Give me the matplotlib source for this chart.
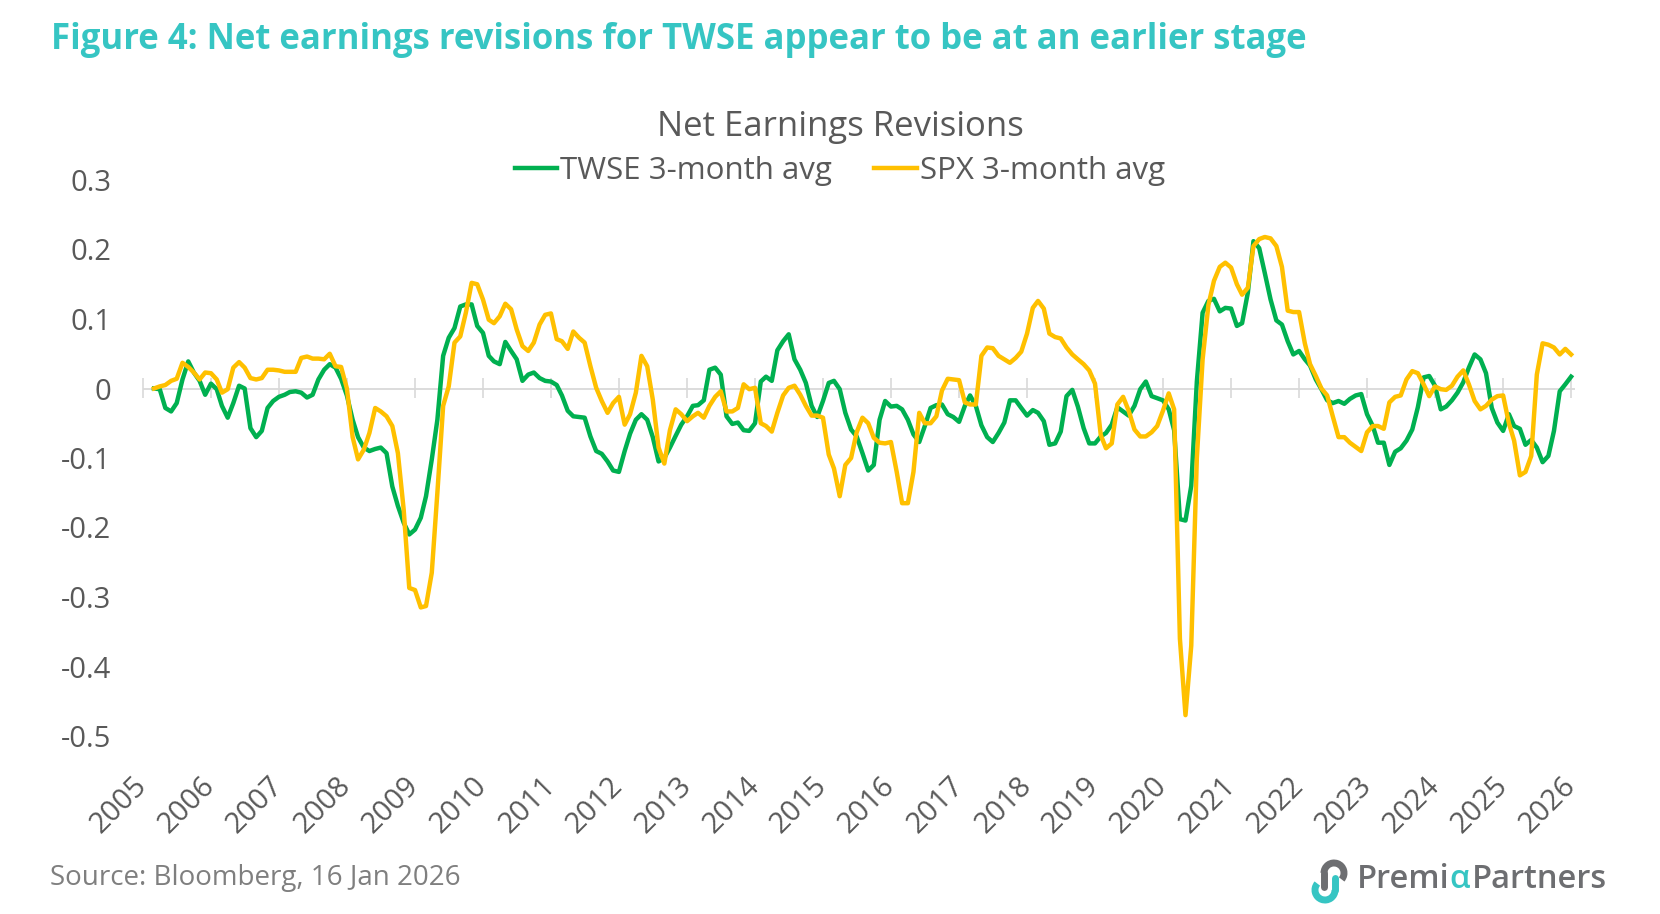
import numpy as np
import pandas as pd
import matplotlib
matplotlib.use('Agg')
import matplotlib.pyplot as plt
import matplotlib.dates as mdates
from matplotlib.patches import Arc

plt.rcParams['font.family'] = ['Open Sans', 'DejaVu Sans']

# 月度数据: 2005-03 .. 2026-01 (3个月均值)
months = pd.date_range('2005-03-01', '2026-01-01', freq='MS')

twse = [
    0.000, -0.001, -0.028, -0.033, -0.021, 0.013, 0.039, 0.023, 0.011, -0.009,                  # 2005
    0.007, -0.001, -0.025, -0.042, -0.021, 0.004, 0.000, -0.057, -0.070, -0.061, -0.028, -0.018,  # 2006
    -0.012, -0.009, -0.005, -0.004, -0.006, -0.013, -0.009, 0.013, 0.027, 0.035, 0.030, 0.014,  # 2007
    -0.010, -0.045, -0.070, -0.085, -0.090, -0.087, -0.085, -0.093, -0.141, -0.169, -0.193, -0.210,  # 2008
    -0.203, -0.186, -0.155, -0.102, -0.045, 0.047, 0.073, 0.087, 0.118, 0.121, 0.121, 0.090,  # 2009
    0.080, 0.047, 0.039, 0.035, 0.067, 0.054, 0.042, 0.011, 0.020, 0.023, 0.015, 0.011,  # 2010
    0.010, 0.005, -0.010, -0.032, -0.040, -0.041, -0.042, -0.069, -0.090, -0.094, -0.105, -0.118,  # 2011
    -0.120, -0.090, -0.065, -0.045, -0.037, -0.045, -0.070, -0.105, -0.100, -0.085, -0.068, -0.052,  # 2012
    -0.040, -0.025, -0.024, -0.017, 0.027, 0.030, 0.020, -0.040, -0.051, -0.049, -0.060, -0.061,  # 2013
    -0.050, 0.010, 0.017, 0.011, 0.055, 0.068, 0.078, 0.042, 0.027, 0.008, -0.025, -0.041,  # 2014
    -0.018, 0.008, 0.011, -0.001, -0.035, -0.059, -0.069, -0.093, -0.118, -0.110, -0.045, -0.018,  # 2015
    -0.026, -0.025, -0.030, -0.045, -0.066, -0.077, -0.054, -0.028, -0.024, -0.023, -0.037, -0.041,  # 2016
    -0.048, -0.025, -0.010, -0.025, -0.053, -0.070, -0.077, -0.064, -0.049, -0.017, -0.017, -0.028,  # 2017
    -0.039, -0.031, -0.035, -0.047, -0.081, -0.079, -0.062, -0.011, -0.002, -0.026, -0.057, -0.079,  # 2018
    -0.079, -0.069, -0.064, -0.052, -0.027, -0.033, -0.039, -0.025, -0.001, 0.010, -0.011, -0.014,  # 2019
    -0.017, -0.030, -0.060, -0.188, -0.190, -0.140, 0.010, 0.109, 0.126, 0.129, 0.111, 0.116,  # 2020
    0.115, 0.090, 0.094, 0.138, 0.212, 0.202, 0.166, 0.128, 0.098, 0.092, 0.068, 0.049,  # 2021
    0.054, 0.042, 0.033, 0.013, -0.001, -0.017, -0.021, -0.018, -0.022, -0.015, -0.010, -0.008,  # 2022
    -0.037, -0.054, -0.078, -0.078, -0.110, -0.091, -0.086, -0.075, -0.059, -0.027, 0.016, 0.018,  # 2023
    0.004, -0.030, -0.026, -0.017, -0.006, 0.009, 0.030, 0.049, 0.042, 0.022, -0.028, -0.049,  # 2024
    -0.061, -0.037, -0.054, -0.058, -0.081, -0.074, -0.085, -0.106, -0.097, -0.061, -0.004, 0.006,  # 2025
    0.017,  # 2026
]

spx = [
    0.000, 0.003, 0.005, 0.011, 0.014, 0.037, 0.031, 0.023, 0.013, 0.023,  # 2005
    0.022, 0.013, -0.006, -0.001, 0.030, 0.038, 0.030, 0.015, 0.013, 0.015, 0.027, 0.027,  # 2006
    0.026, 0.024, 0.024, 0.024, 0.044, 0.046, 0.043, 0.043, 0.042, 0.050, 0.032, 0.031,  # 2007
    0.000, -0.070, -0.102, -0.088, -0.064, -0.028, -0.033, -0.040, -0.054, -0.093, -0.174, -0.287,  # 2008
    -0.290, -0.315, -0.313, -0.265, -0.150, -0.025, 0.003, 0.066, 0.075, 0.109, 0.152, 0.150,  # 2009
    0.128, 0.099, 0.094, 0.104, 0.122, 0.114, 0.085, 0.061, 0.054, 0.066, 0.092, 0.106,  # 2010
    0.108, 0.071, 0.068, 0.057, 0.082, 0.073, 0.066, 0.032, 0.001, -0.018, -0.035, -0.021,  # 2011
    -0.012, -0.052, -0.037, -0.006, 0.047, 0.032, -0.016, -0.085, -0.108, -0.060, -0.030, -0.037,  # 2012
    -0.047, -0.040, -0.035, -0.042, -0.025, -0.012, -0.004, -0.033, -0.033, -0.028, 0.006, -0.001,  # 2013
    0.001, -0.050, -0.054, -0.062, -0.035, -0.010, 0.001, 0.004, -0.009, -0.025, -0.039, -0.039,  # 2014
    -0.042, -0.095, -0.115, -0.155, -0.110, -0.100, -0.063, -0.042, -0.050, -0.071, -0.078, -0.079,  # 2015
    -0.077, -0.120, -0.165, -0.165, -0.120, -0.035, -0.050, -0.050, -0.040, -0.003, 0.014, 0.013,  # 2016
    0.012, -0.020, -0.023, -0.023, 0.047, 0.059, 0.058, 0.047, 0.042, 0.037, 0.044, 0.053,  # 2017
    0.079, 0.116, 0.126, 0.115, 0.079, 0.074, 0.072, 0.059, 0.049, 0.042, 0.035, 0.026,  # 2018
    0.007, -0.067, -0.086, -0.079, -0.023, -0.012, -0.032, -0.059, -0.069, -0.069, -0.063, -0.054,  # 2019
    -0.032, -0.007, -0.030, -0.360, -0.470, -0.370, -0.100, 0.042, 0.120, 0.155, 0.175, 0.181,  # 2020
    0.174, 0.150, 0.135, 0.145, 0.205, 0.215, 0.218, 0.216, 0.205, 0.175, 0.112, 0.110,  # 2021
    0.110, 0.065, 0.035, 0.018, 0.000, -0.010, -0.040, -0.070, -0.070, -0.078, -0.084, -0.090,  # 2022
    -0.063, -0.054, -0.054, -0.058, -0.020, -0.012, -0.010, 0.013, 0.025, 0.022, 0.006, -0.011,  # 2023
    0.003, -0.001, -0.002, 0.004, 0.017, 0.026, 0.006, -0.018, -0.030, -0.025, -0.016, -0.011,  # 2024
    -0.010, -0.050, -0.075, -0.125, -0.120, -0.097, 0.020, 0.065, 0.063, 0.059, 0.049, 0.057,  # 2025
    0.049,  # 2026
]

years = list(range(2005, 2027))
y_ticks = [0.3, 0.2, 0.1, 0.0, -0.1, -0.2, -0.3, -0.4, -0.5]
y_labels = ['0.3', '0.2', '0.1', '0', '-0.1', '-0.2', '-0.3', '-0.4', '-0.5']
series_names = ['TWSE 3-month avg', 'SPX 3-month avg']

GREEN = '#00B050'
GOLD = '#FFC000'
TEXT = '#595959'
GRID = '#D9D9D9'
TEAL = '#36C5C3'

W, H = 1660, 914
fig = plt.figure(figsize=(W / 100, H / 100), dpi=100)
ax = fig.add_axes([143 / W, 1 - 736 / H, (1575 - 143) / W, (736 - 180) / H])

x = mdates.date2num(months)
ylim = (-0.5, 0.3)
x_ticks = mdates.date2num([pd.Timestamp(f'{y}-01-01') for y in years])

# 零轴线 (在数据线下方)
ax.axhline(0, color=GRID, lw=1.3, zorder=1)
ax.plot(x, twse, color=GREEN, lw=3.2, label=series_names[0], solid_joinstyle='round', zorder=3)
ax.plot(x, spx, color=GOLD, lw=3.2, label=series_names[1], solid_joinstyle='round', zorder=4)

ax.set_ylim(*ylim)
ax.set_xlim(x_ticks[0], x_ticks[-1] + 21)

for s in ax.spines.values():
    s.set_visible(False)

ax.set_yticks(y_ticks)
ax.set_yticklabels(y_labels)
ax.tick_params(axis='y', length=0, pad=23, labelsize=21, labelcolor=TEXT)

# 年份标签放在底部
ax.set_xticks(x_ticks)
ax.set_xticklabels([str(y) for y in years])
ax.tick_params(axis='x', length=0, pad=33, labelsize=21, labelcolor=TEXT)
plt.setp(ax.get_xticklabels(), rotation=45, ha='right', va='center', rotation_mode='anchor')

# 零轴上的刻度
zero_frac = (0 - ylim[0]) / (ylim[1] - ylim[0])
sec = ax.secondary_xaxis(zero_frac)
sec.set_xticks(x_ticks)
sec.set_xticklabels([])
for s in sec.spines.values():
    s.set_visible(False)
sec.tick_params(direction='inout', length=14, width=1.2, color=GRID)

fig.text(51 / W, 1 - 40 / H, 'Figure 4: Net earnings revisions for TWSE appear to be at an earlier stage',
         fontsize=25, fontweight='bold', color=TEAL, ha='left', va='center')
fig.text(840 / W, 1 - 127 / H, 'Net Earnings Revisions', fontsize=25, color=TEXT,
         ha='center', va='center')
ax.legend(loc='center', bbox_to_anchor=(840 / W, 1 - 171 / H), bbox_transform=fig.transFigure,
          ncol=2, frameon=False, fontsize=22.5, handlelength=1.35, handletextpad=0.1,
          columnspacing=1.35, labelcolor=TEXT)

fig.text(50 / W, 1 - 878 / H, 'Source: Bloomberg, 16 Jan 2026', fontsize=20, color='#7F7F7F',
         ha='left', va='center')

# logo
renderer = fig.canvas.get_renderer()
x0 = 1357 / W
for part, col in [('Premi', '#6D6E71'), ('α', TEAL), ('Partners', '#6D6E71')]:
    t = fig.text(x0, 1 - 880 / H, part, fontsize=23.5, fontweight='semibold', color=col,
                 ha='left', va='center')
    bb = t.get_window_extent(renderer)
    x0 = bb.x1 / W + (2 / W if part == 'α' else 0)

lax = fig.add_axes([1310 / W, 1 - 904 / H, 40 / W, 46 / H])
lax.set_xlim(0, 40)
lax.set_ylim(0, 46)
lax.set_aspect('equal')
lax.axis('off')
lax.add_patch(Arc((24, 31), 20, 20, theta1=-40, theta2=180, lw=5, color='#6D6E71'))
lax.plot([14, 14], [31, 17], lw=5, color='#6D6E71', solid_capstyle='round')
lax.add_patch(Arc((15, 14), 20, 20, theta1=140, theta2=360, lw=5, color=TEAL))
lax.plot([25, 25], [14, 26], lw=5, color=TEAL, solid_capstyle='round')

fig.savefig('out.png', dpi=100)
